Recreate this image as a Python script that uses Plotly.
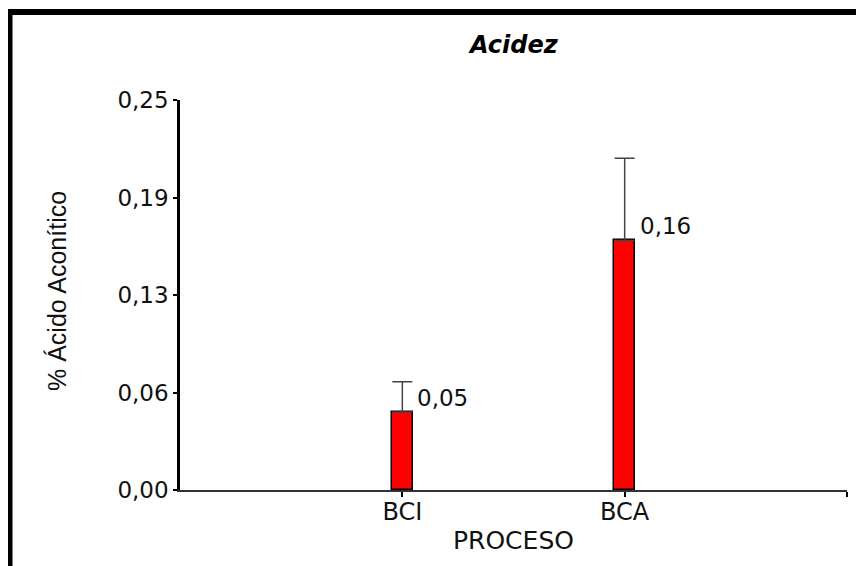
import plotly.graph_objects as go

categories = ["BCI", "BCA"]
cat_pos = [1, 2]
values = [0.05, 0.16]
err_plus = [0.0194, 0.0526]
value_labels = ["0,05", "0,16"]
ytick_vals = [0, 0.0625, 0.125, 0.1875, 0.25]
ytick_text = ["0,00", "0,06", "0,13", "0,19", "0,25"]

FONT = "DejaVu Sans, Liberation Sans, Arial"
TXT = "#111111"

W, H = 864, 566
OFF = 8  # page body margin
L, R, T, B = 180 - OFF, W - 847 + OFF, 100 - OFF, H - 490 + OFF
pw, ph = W - L - R, H - T - B

def px2x(px):  # page px -> paper x
    return (px - OFF - L) / pw

def py2y(py):  # page px -> paper y
    return (H - B - (py - OFF)) / ph

fig = go.Figure()
fig.add_trace(go.Bar(
    x=cat_pos, y=values, width=0.095,
    marker=dict(color="#ff0000", line=dict(color="black", width=1.5)),
    error_y=dict(type="data", array=err_plus, arrayminus=[0, 0], symmetric=False,
                 color="#444444", thickness=1.5, width=10),
    showlegend=False, hoverinfo="skip",
))

for xp, v, t in zip(cat_pos, values, value_labels):
    fig.add_annotation(x=xp, y=v, text=t, showarrow=False, xanchor="left",
                       yanchor="middle", xshift=13, yshift=14,
                       font=dict(family=FONT, size=23, color=TXT))

fig.add_annotation(xref="paper", yref="paper", x=0.5, y=py2y(45), text="<b><i>Acidez</i></b>",
                   showarrow=False, xanchor="center", yanchor="middle",
                   font=dict(family=FONT, size=24, color="black"))

fig.add_annotation(xref="paper", yref="paper", x=px2x(513), y=py2y(540), text="PROCESO",
                   showarrow=False, xanchor="center", yanchor="middle",
                   font=dict(family=FONT, size=25, color=TXT))

fig.add_annotation(xref="paper", yref="paper", x=px2x(57), y=py2y(291), text="% Ácido Aconítico",
                   showarrow=False, xanchor="center", yanchor="middle", textangle=-90,
                   font=dict(family="Liberation Sans, Arial", size=25, color=TXT))

# frame (top and left only)
fig.add_shape(type="line", xref="paper", yref="paper",
              x0=px2x(7), x1=px2x(880), y0=py2y(12), y1=py2y(12),
              line=dict(color="black", width=6))
fig.add_shape(type="line", xref="paper", yref="paper",
              x0=px2x(9.5), x1=px2x(9.5), y0=py2y(9), y1=py2y(600),
              line=dict(color="black", width=6))

fig.update_layout(
    width=W, height=H,
    margin=dict(l=L, r=R, t=T, b=B),
    paper_bgcolor="white", plot_bgcolor="white",
    bargap=0,
    xaxis=dict(range=[0, 3], tickvals=[1, 2, 3], ticktext=categories + [""],
               showgrid=False, zeroline=False, showline=True, linecolor="#333333",
               linewidth=1.5, ticks="outside", ticklen=5, tickwidth=2, tickcolor="black",
               ticklabelstandoff=-6,
               tickfont=dict(family=FONT, size=24, color=TXT)),
    yaxis=dict(range=[0, 0.25], tickvals=ytick_vals, ticktext=ytick_text,
               showgrid=False, zeroline=False, showline=True, linecolor="black",
               linewidth=2.5, ticks="outside", ticklen=4, tickwidth=1.5, tickcolor="black",
               tickfont=dict(family=FONT, size=23, color=TXT)),
)

fig.write_html("out.html")
